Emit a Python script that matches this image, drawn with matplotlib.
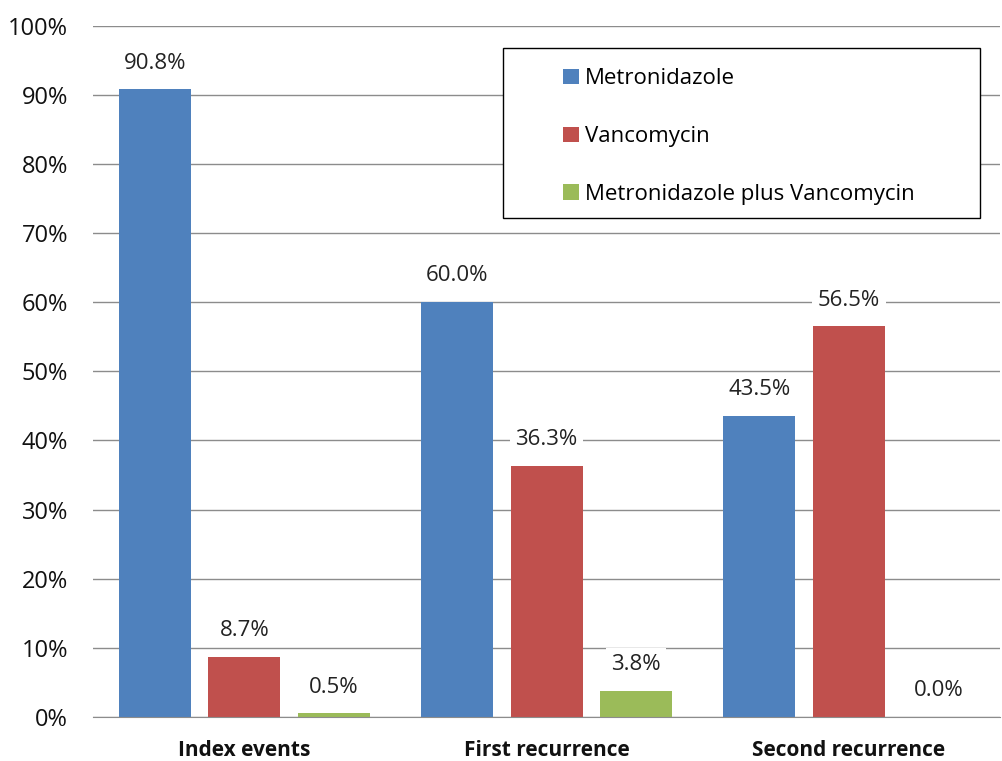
import numpy as np
from matplotlib import pyplot
from matplotlib.patches import Rectangle

categories = ["Index events", "First recurrence", "Second recurrence"]
series_names = ["Metronidazole", "Vancomycin", "Metronidazole plus Vancomycin"]
metronidazole = [90.8, 60.0, 43.5]
vancomycin = [8.7, 36.3, 56.5]
combo = [0.5, 3.8, 0.0]
colors = ["#4F81BD", "#C0504D", "#9BBB59"]

pyplot.rcParams['font.family'] = ['Open Sans', 'DejaVu Sans']

fig = pyplot.figure(figsize=(10.02, 7.61), dpi=100)
ax = fig.add_axes([0.093, 0.058, 0.905, 0.908])

x = np.arange(len(categories))
width = 0.238
step = 0.296
for i, (vals, name) in enumerate(zip([metronidazole, vancomycin, combo], series_names)):
    pos = x + (i - 1) * step
    ax.bar(pos, vals, width, color=colors[i], label=name, zorder=2)
    for xp, v in zip(pos, vals):
        ax.annotate(f"{v:.1f}%", (xp, v), xytext=(0, 19), textcoords="offset points",
                    ha="center", va="center", fontsize=16, color="#222222", zorder=4,
                    bbox=dict(facecolor="white", edgecolor="none", pad=4))

# グリッド線
ax.set_ylim(0, 100)
ax.set_xlim(-0.5, 2.5)
ax.set_yticks(range(0, 101, 10))
ax.set_yticklabels([f"{t}%" for t in range(0, 101, 10)], fontsize=17, color="#111111")
ax.grid(axis='y', color="#8c8c8c", linewidth=1, zorder=0)
ax.set_xticks(x)
ax.set_xticklabels(categories, fontsize=15, fontweight="bold", color="#111111")
ax.tick_params(axis='both', length=0)
ax.tick_params(axis='y', pad=18)
ax.tick_params(axis='x', pad=17)
for s in ["top", "right", "left"]:
    ax.spines[s].set_visible(False)
ax.spines["bottom"].set_color("#8c8c8c")

# 凡例の枠
frame = Rectangle((0.502, 0.7135), 0.476, 0.2234, transform=fig.transFigure,
                  facecolor="white", edgecolor="black", linewidth=1, zorder=5)
fig.patches.append(frame)
leg = fig.legend(loc="upper left", bbox_to_anchor=(0.562, 0.910), fontsize=16,
                 frameon=False, handlelength=0.7, handleheight=0.7, handletextpad=0.3,
                 labelspacing=1.65, borderpad=0, borderaxespad=0)
leg.set_zorder(6)

pyplot.savefig("out.png", dpi=100)
pyplot.close(fig)
